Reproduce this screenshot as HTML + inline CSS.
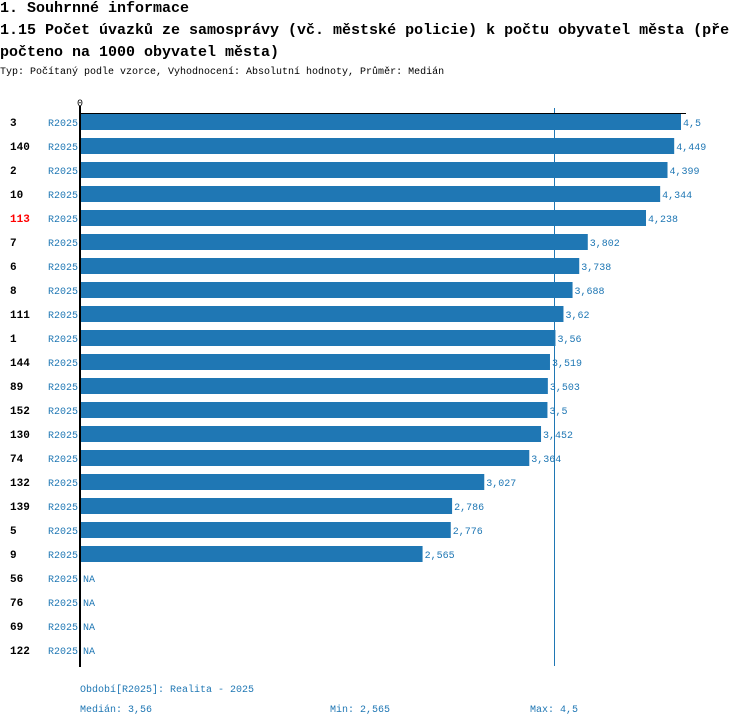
<!DOCTYPE html>
<html><head><meta charset="utf-8"><style>
body{margin:0;background:#fff;width:750px;height:726px;overflow:hidden;font-family:"Liberation Mono",monospace}
.t{position:absolute;white-space:nowrap;color:#000}
</style></head><body>
<div class="t" style="left:0;top:0;font-size:15px;font-weight:bold;line-height:18px">1. Souhrnné informace</div>
<div class="t" style="left:0;top:20px;font-size:15px;font-weight:bold;line-height:22px">1.15 Počet úvazků ze samosprávy (vč. městské policie) k počtu obyvatel města (pře<br>počteno na 1000 obyvatel města)</div>
<div class="t" style="left:0;top:66px;font-size:10px;line-height:14px">Typ: Počítaný podle vzorce, Vyhodnocení: Absolutní hodnoty, Průměr: Medián</div>
<svg id="c" width="750" height="726" style="position:absolute;left:0;top:0" font-family="Liberation Mono, monospace"></svg>
<script>
const categories=["3","140","2","10","113","7","6","8","111","1","144","89","152","130","74","132","139","5","9","56","76","69","122"];
const values=[4.5,4.449,4.399,4.344,4.238,3.802,3.738,3.688,3.62,3.56,3.519,3.503,3.5,3.452,3.364,3.027,2.786,2.776,2.565,null,null,null,null];
const highlight=["113"];
const median=3.56, minV=2.565, maxV=4.5;
const NS="http://www.w3.org/2000/svg";
const svg=document.getElementById('c');
const x0=80, pxPer=(681-80)/4.5;
const xs=v=>x0+v*pxPer;
const rowY=i=>114+i*24;
const fmt=v=>String(v).replace('.',',');
function mk(tag,attrs,text){const e=document.createElementNS(NS,tag);for(const k in attrs)e.setAttribute(k,attrs[k]);if(text!==undefined)e.textContent=text;svg.appendChild(e);return e;}
let e=mk('text',{x:x0,y:106,'font-size':10,'text-anchor':'middle'},'0');


let m=mk('line',{x1:Math.round(xs(median))-0.5,x2:Math.round(xs(median))-0.5,y1:108,y2:666,stroke:'#1f77b4','stroke-width':1});


categories.forEach((c,i)=>{
  const y=rowY(i);
  let l=mk('text',{x:10,y:y+12,'font-size':11,'font-weight':'bold',fill:highlight.includes(c)?'#ff0000':'#000'},c);
  
  
  let p=mk('text',{x:78,y:y+12,'font-size':10,'text-anchor':'end',fill:'#1f77b4'},'R2025');
  
  
  const v=values[i];
  if(v!==null){
    let b=mk('rect',{x:x0,y:y,width:xs(v)-x0,height:16,fill:'#1f77b4'});
    
    
    let t=mk('text',{x:xs(v)+2,y:y+12,'font-size':10,fill:'#1f77b4'},fmt(v));
    
    
  }else{
    let t=mk('text',{x:x0+3,y:y+12,'font-size':10,fill:'#1f77b4'},'NA');
    
    
  }
});
let a=mk('line',{x1:x0,x2:x0,y1:106,y2:667,stroke:'#000','stroke-width':2});


let h=mk('line',{x1:x0,x2:686,y1:113.5,y2:113.5,stroke:'#000','stroke-width':1});


let f1=mk('text',{x:80,y:692,'font-size':10,fill:'#1f77b4'},'Období[R2025]: Realita - 2025');


let f2=mk('text',{x:80,y:712,'font-size':10,fill:'#1f77b4'},'Medián: '+fmt(median));


let f3=mk('text',{x:330,y:712,'font-size':10,fill:'#1f77b4'},'Min: '+fmt(minV));


let f4=mk('text',{x:530,y:712,'font-size':10,fill:'#1f77b4'},'Max: '+fmt(maxV));


</script>
</body></html>
